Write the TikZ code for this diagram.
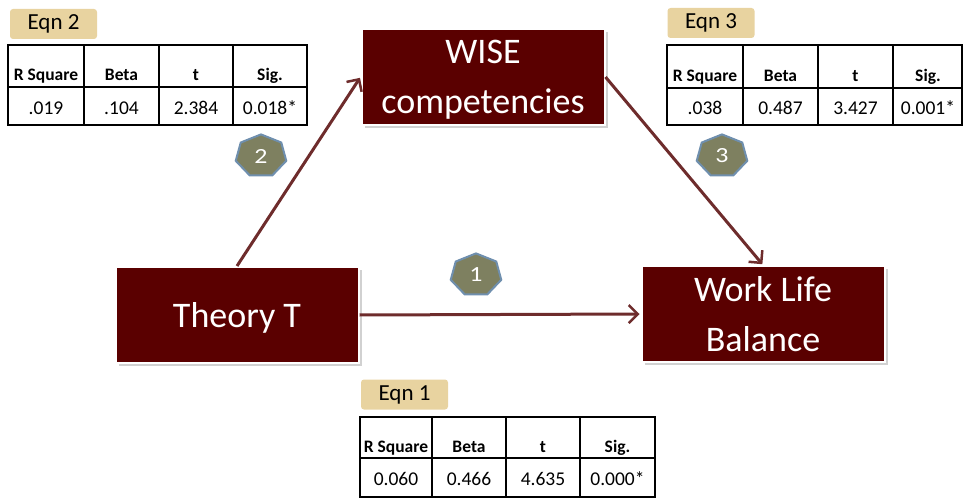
\documentclass[tikz,border=0pt]{standalone}
\usepackage{fontspec}
\setmainfont{Carlito}
\usetikzlibrary{arrows.meta,shapes.geometric,shadows,positioning}
\definecolor{boxmaroon}{HTML}{5A0000}
\definecolor{linkred}{HTML}{6E2C2C}
\definecolor{eqntan}{HTML}{E8D3A0}
\definecolor{hepfill}{HTML}{7E8060}
\definecolor{hepline}{HTML}{6F8FAE}

\begin{document}
\begin{tikzpicture}[x=1pt,y=-1pt]

\tikzset{varbox/.style={fill=boxmaroon,draw=white,line width=2pt,text=white,font=\fontsize{36}{50}\selectfont,align=center,text depth=0pt,minimum width=243pt,minimum height=96pt,inner sep=0pt,drop shadow={shadow xshift=3pt,shadow yshift=-3pt,opacity=.3,fill=black!60}},
pathnum/.style={regular polygon,regular polygon sides=7,minimum size=48pt,inner sep=0pt,fill=hepfill,draw=hepline,line width=2pt,text=white,font=\fontsize{24}{24}\selectfont,transform shape,xscale=1.08,yscale=0.9},
eqnlabel/.style={fill=eqntan,rounded corners=3pt,minimum width=87pt,minimum height=30pt,inner sep=0pt,font=\fontsize{23}{23}\selectfont},
link/.style={linkred,line width=3pt,shorten >=1pt,-{Straight Barb[length=9pt,width=18pt,line width=2.5pt]}},
grid/.style={line width=1.5pt},
cellhead/.style={font=\bfseries\fontsize{17.5}{17.5}\selectfont,anchor=base,inner sep=0pt},
celldata/.style={font=\fontsize{19.5}{19.5}\selectfont,anchor=base,inner sep=0pt}}

\useasboundingbox (0,0) rectangle (964,500);

% Variables
\node[varbox] (wise) at (483,77) {WISE\\competencies};
\node[varbox] (theory) at (237,315) {Theory T};
\node[varbox] (wlb) at (763,314) {Work Life\\Balance};

% Paths
\draw[link] (theory.north) -- (wise.west);
\draw[link] (wise.east) -- (wlb.north);
\draw[link] (theory.east) -- (wlb.west);

% Path numbers
\node[pathnum] (num2) at (261,156) {2};
\node[pathnum] (num1) at (476,275) {1};
\node[pathnum] (num3) at (722,156) {3};

% Eqn 2 table
\node[eqnlabel] (eqn2) at (53.5,24) {Eqn 2};
\draw[grid] (8,45) rectangle (307,125);
\draw[grid] (8,87) -- (307,87);
\foreach \x in {84,159,233} \draw[grid] (\x,45) -- (\x,125);
\foreach \x/\h/\d [count=\i] in {46/R Square/.019,121.5/Beta/.104,196/t/2.384,270/Sig./0.018*} {
  \node[cellhead] (head2\i) at (\x,81) {\h};
  \node[celldata] (data2\i) at (\x,115) {\d};
}

% Eqn 3 table
\node[eqnlabel] (eqn3) at (711,23) {Eqn 3};
\draw[grid] (667,45) rectangle (962,125);
\draw[grid] (667,88) -- (962,88);
\foreach \x in {743,818,893} \draw[grid] (\x,45) -- (\x,125);
\foreach \x/\h/\d [count=\i] in {705/R Square/.038,780.5/Beta/0.487,855.5/t/3.427,928/Sig./0.001*} {
  \node[cellhead] (head3\i) at (\x,82) {\h};
  \node[celldata] (data3\i) at (\x,115) {\d};
}

% Eqn 1 table
\node[eqnlabel] (eqn1) at (404.5,394.5) {Eqn 1};
\draw[grid] (360,417) rectangle (655,497);
\draw[grid] (360,458) -- (655,458);
\foreach \x in {432,506,580} \draw[grid] (\x,417) -- (\x,497);
\foreach \x/\h/\d [count=\i] in {396/R Square/0.060,469/Beta/0.466,543/t/4.635,617.5/Sig./0.000*} {
  \node[cellhead] (head1\i) at (\x,452) {\h};
  \node[celldata] (data1\i) at (\x,485) {\d};
}

\end{tikzpicture}
\end{document}
